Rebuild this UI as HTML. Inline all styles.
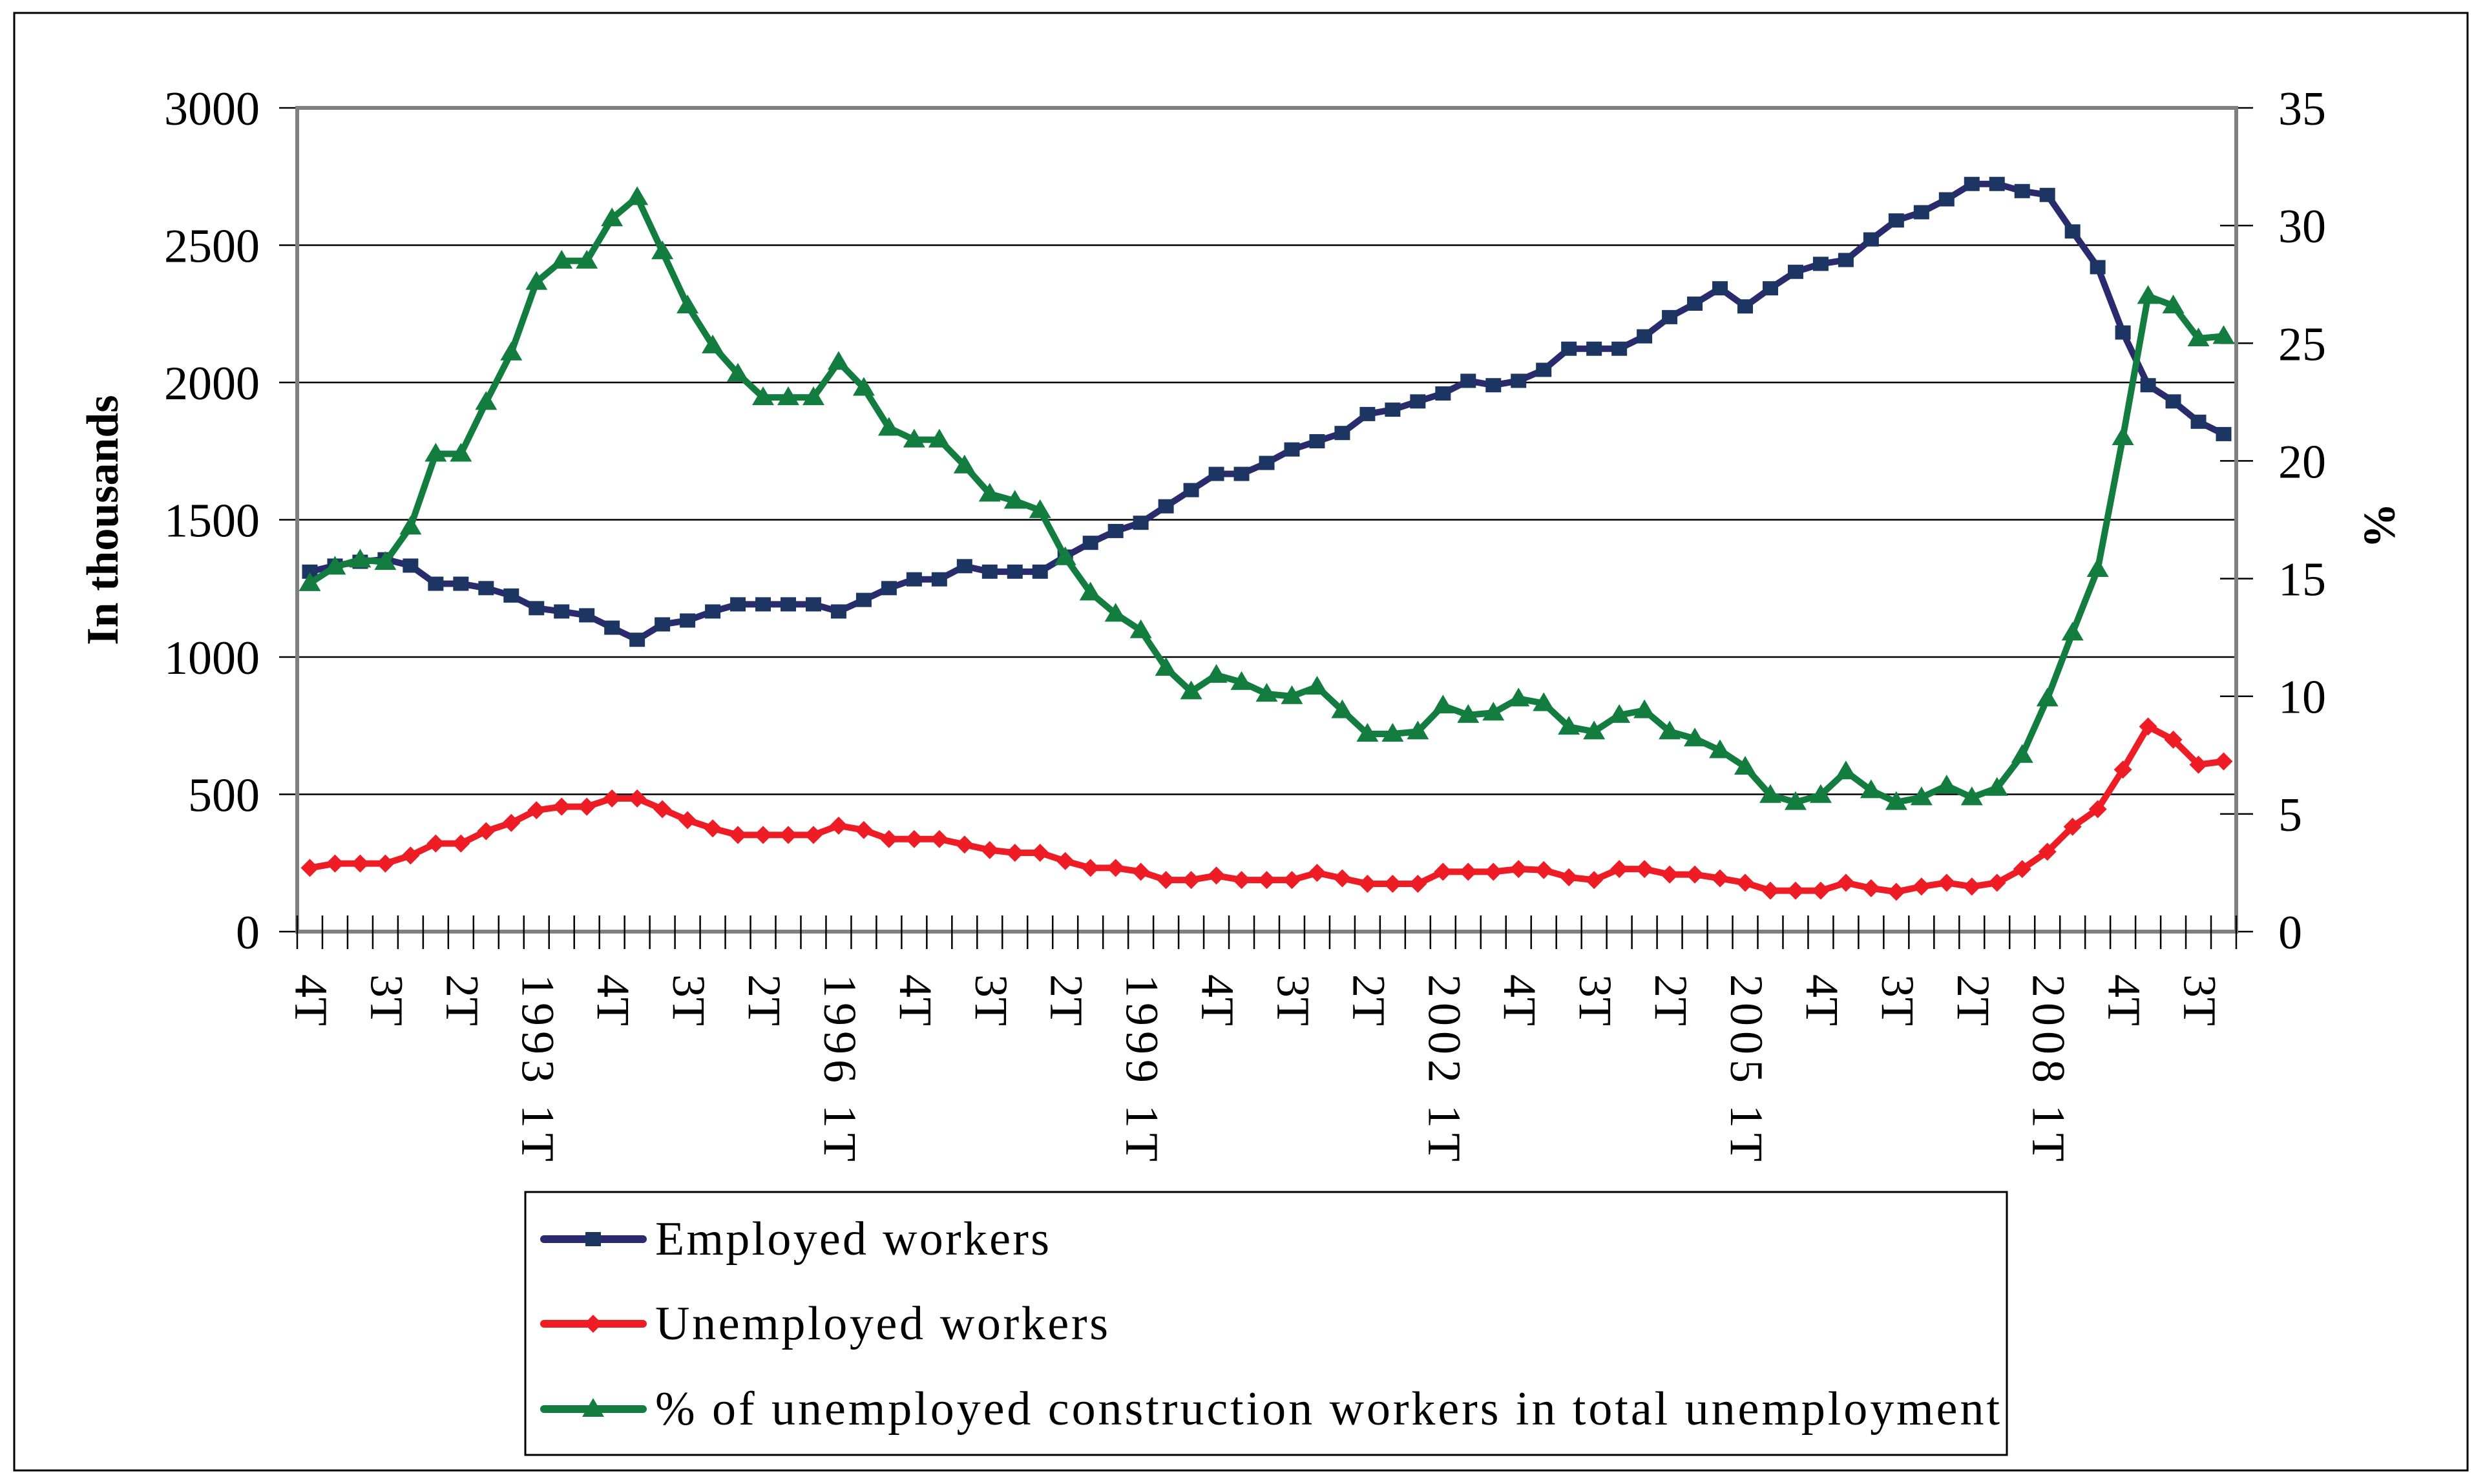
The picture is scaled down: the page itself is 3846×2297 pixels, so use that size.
<!DOCTYPE html>
<html><head><meta charset="utf-8"><style>
html,body{margin:0;padding:0;background:#fff;}
svg{display:block;font-family:"Liberation Serif",serif;}
</style></head><body>
<svg id="chart" width="3846" height="2297" viewBox="0 0 3846 2297" xmlns="http://www.w3.org/2000/svg">
<rect x="22" y="20" width="3797" height="2256" fill="#fff" stroke="#000" stroke-width="3"/>
<g id="grid"></g>
<g id="axes"></g>
<g id="series"></g>
<text x="0" y="0" transform="translate(182,805) rotate(-90)" text-anchor="middle" font-size="70" font-weight="bold">In thousands</text>
<text x="0" y="0" transform="translate(3660,813) rotate(90)" text-anchor="middle" font-size="70" font-weight="bold">%</text>
<g>
<rect x="813" y="1845" width="2293" height="407" fill="#fff" stroke="#000" stroke-width="3"/>
<g id="legend-items"></g>
</g>
</svg>
<script>
const quarters = ["1T","2T","3T","4T"];
const startYear = 1990;
const employed = [1311,1333,1347,1356,1333,1267,1267,1251,1224,1178,1166,1152,1107,1063,1119,1133,1166,1192,1192,1192,
1192,1166,1208,1251,1283,1283,1331,1311,1311,1311,1366,1416,1459,1489,1549,1608,1667,1667,1707,1756,
1786,1816,1885,1901,1931,1960,2006,1990,2006,2046,2123,2123,2123,2168,2238,2287,2343,2277,2343,
2403,2432,2446,2521,2590,2620,2667,2723,2723,2697,2683,2550,2420,2182,1990,1931,1857,1812];
const unemployed = [232,248,248,248,277,321,321,366,396,442,455,455,485,485,446,406,376,352,352,352,
352,386,370,337,337,337,317,297,287,287,257,232,232,218,188,188,204,188,188,188,
214,194,174,174,174,218,218,218,228,224,198,188,228,228,208,208,194,178,149,
149,149,178,158,145,164,178,164,178,228,291,382,446,590,747,699,608,620];
const percent = [14.8,15.5,15.8,15.7,17.2,20.3,20.3,22.5,24.6,27.6,28.5,28.5,30.3,31.2,28.9,26.6,24.9,23.7,22.7,22.7,
22.7,24.2,23.1,21.4,20.9,20.9,19.8,18.6,18.3,17.9,15.9,14.4,13.5,12.8,11.2,10.2,10.9,10.6,10.1,10.0,
10.4,9.4,8.4,8.4,8.5,9.6,9.2,9.3,9.9,9.7,8.7,8.5,9.2,9.4,8.5,8.2,7.7,7.0,5.8,
5.5,5.8,6.8,6.0,5.5,5.7,6.2,5.7,6.1,7.5,9.9,12.7,15.4,21.0,27.0,26.6,25.2,25.3];
const leftTicks = [0,500,1000,1500,2000,2500,3000];
const rightTicks = [0,5,10,15,20,25,30,35];
const legendLabels = ["Employed workers","Unemployed workers","% of unemployed construction workers in total unemployment"];
const legendWidths = [610,701,2081];

const NS="http://www.w3.org/2000/svg";
const L=460,R=3461,T=167,B=1442;
const n=employed.length, step=(R-L)/n;
const xAt=i=>L+(i+0.5)*step;
const yL=v=>B-(v/3000)*(B-T);
const yR=v=>B-(v/35)*(B-T);
function mk(tag,attrs,parent){const e=document.createElementNS(NS,tag);for(const k in attrs)e.setAttribute(k,attrs[k]);parent.appendChild(e);return e;}
const grid=document.getElementById('grid'),axes=document.getElementById('axes'),series=document.getElementById('series');

leftTicks.forEach(v=>{
  if(v>0&&v<3000){const g=mk('line',{x1:L,x2:R,y1:yL(v),y2:yL(v),stroke:'#000','stroke-width':2.5},grid);
  
  }
  const t=mk('line',{x1:L-28,x2:L,y1:yL(v),y2:yL(v),stroke:'#000','stroke-width':2.5},axes);
  
  
  const lb=mk('text',{x:402,y:yL(v)+26,'text-anchor':'end','font-size':74},axes);
  lb.textContent=v;
  
  
});
rightTicks.forEach(v=>{
  const t=mk('line',{x1:R-25,x2:R+26,y1:yR(v),y2:yR(v),stroke:'#000','stroke-width':2.5},axes);
  
  
  const lb=mk('text',{x:3526,y:yR(v)+26,'text-anchor':'start','font-size':74},axes);
  lb.textContent=v;
  
  
});
const frame=mk('rect',{x:L,y:T,width:R-L,height:B-T,fill:'none',stroke:'#808080','stroke-width':6},axes);


for(let i=0;i<=n;i++){
  const x=L+i*step;
  const t=mk('line',{x1:x,x2:x,y1:B-25,y2:B+27,stroke:'#000','stroke-width':2.5},axes);
  
  
}
for(let i=0;i<n;i+=3){
  const qi=(3+i)%4, yr=startYear+Math.floor((3+i)/4);
  const isYear=qi===0;
  const label=isYear?(yr+" 1T"):quarters[qi];
  const x=xAt(i);
  const attrs={x:0,y:0,transform:`translate(${x-22},1508) rotate(90)`,'font-size':72};
  if(isYear){attrs.textLength=290;attrs.lengthAdjust='spacing';}
  const lb=mk('text',attrs,axes);
  lb.textContent=label;
  
  
}

function marker(kind,x,y,color,parent){
  let e;
  if(kind==='square') e=mk('rect',{x:x-12,y:y-11,width:24,height:22,fill:color},parent);
  else if(kind==='diamond') e=mk('polygon',{points:`${x},${y-14} ${x+14},${y} ${x},${y+14} ${x-14},${y}`,fill:color},parent);
  else e=mk('polygon',{points:`${x},${y-17} ${x+17},${y+12} ${x-17},${y+12}`,fill:color},parent);
  return e;
}
function drawSeries(vals,yf,line,mcol,kind,name){
  const g=mk('g',{},series);
  
  
  const pts=vals.map((v,i)=>xAt(i)+','+yf(v)).join(' ');
  const pl=mk('polyline',{points:pts,fill:'none',stroke:line,'stroke-width':10,'stroke-linejoin':'round'},g);
  
  
  vals.forEach((v,i)=>{const m=marker(kind,xAt(i),yf(v),mcol,g);
    
    });
}
drawSeries(employed,yL,'#2a2a6e','#1c3563','square','employed-series');
drawSeries(unemployed,yL,'#ee1c25','#ee1c25','diamond','unemployed-series');
drawSeries(percent,yR,'#127d3e','#127d3e','triangle','percent-series');

const li=document.getElementById('legend-items');
const lcols=[['#2a2a6e','#1c3563','square'],['#ee1c25','#ee1c25','diamond'],['#127d3e','#127d3e','triangle']];
const ly=[1918,2049,2181];
legendLabels.forEach((lab,k)=>{
  const g=mk('g',{},li);
  
  
  mk('line',{x1:842,x2:995,y1:ly[k],y2:ly[k],stroke:lcols[k][0],'stroke-width':12,'stroke-linecap':'round'},g);
  marker(lcols[k][2],918,ly[k],lcols[k][1],g);
  const t=mk('text',{x:1014,y:ly[k]+24,'font-size':74,textLength:legendWidths[k],lengthAdjust:'spacing'},g);
  t.textContent=lab;
});
</script>
</body></html>
